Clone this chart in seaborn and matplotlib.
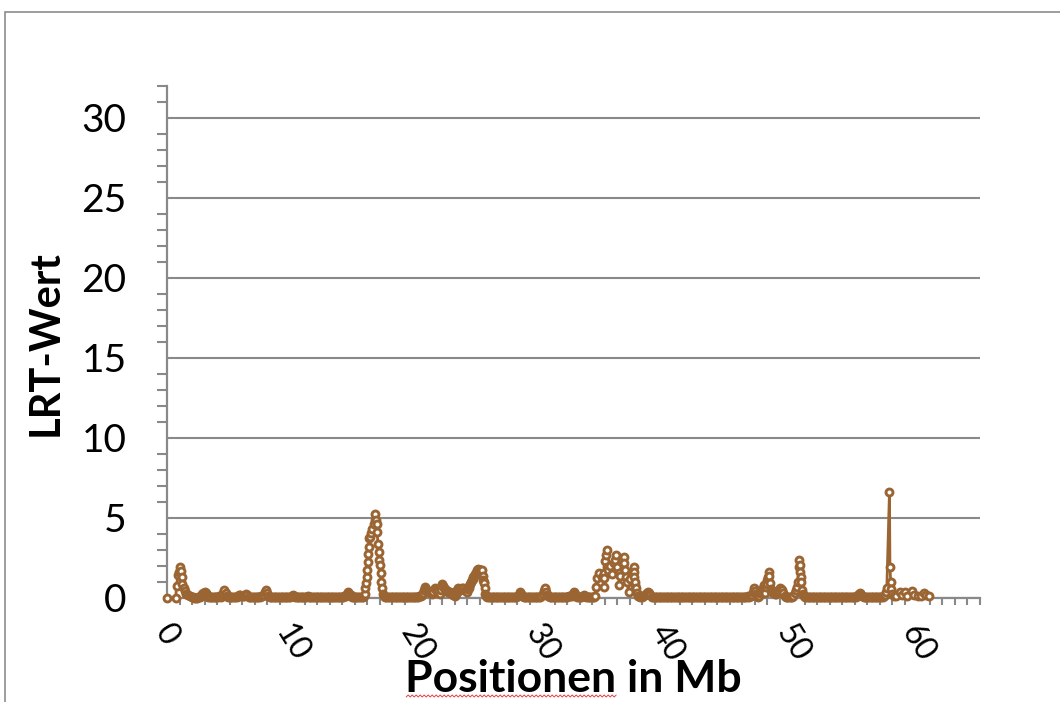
import matplotlib
matplotlib.use("Agg")
import matplotlib.pyplot as plt
from matplotlib.ticker import MultipleLocator
from matplotlib.patches import Rectangle
from matplotlib.lines import Line2D
from matplotlib.transforms import IdentityTransform
import pandas as pd
import seaborn as sns

# ---- LRT scan along the chromosome (position in Mb, LRT value) ----
pos_a = [
    0.00, 0.70, 0.76, 0.88, 0.95, 1.04, 1.10, 1.16, 1.22, 1.32, 1.42, 1.55, 1.70, 1.86,
    1.96, 2.06, 2.17, 2.28, 2.39, 2.50, 2.61, 2.72, 2.82, 2.91,
    3.00, 3.08, 3.18, 3.29, 3.40, 3.51, 3.62, 3.73, 3.84, 3.95,
    4.06, 4.17, 4.28, 4.39, 4.48, 4.58, 4.68, 4.79, 4.90, 5.01,
    5.12, 5.23, 5.34, 5.45, 5.56, 5.67, 5.76, 5.84, 5.93, 6.04,
    6.15, 6.25, 6.33, 6.42, 6.53, 6.64, 6.75, 6.86, 6.97, 7.08,
    7.19, 7.30, 7.41, 7.52, 7.63, 7.74, 7.83, 7.90, 7.98, 8.09,
    8.20, 8.31, 8.42, 8.53, 8.64, 8.75, 8.86, 8.97, 9.08, 9.19,
    9.30, 9.41, 9.52, 9.63, 9.74, 9.85, 9.96, 10.04, 10.14, 10.25,
    10.36, 10.47, 10.58, 10.69, 10.80, 10.91, 11.02, 11.13, 11.24, 11.33,
    11.44, 11.55, 11.66, 11.77, 11.88, 11.99, 12.10, 12.21, 12.32, 12.43,
    12.54, 12.65, 12.76, 12.87, 12.98, 13.09, 13.20, 13.31, 13.42, 13.53,
    13.64, 13.75, 13.86, 13.97, 14.08, 14.19, 14.30, 14.40, 14.50, 14.58,
    14.68, 14.79, 14.90, 15.01, 15.12, 15.23, 15.34, 15.45, 15.56, 15.67,
    15.76, 15.82, 15.86, 15.92, 15.97, 16.02, 16.06, 16.10, 16.14, 16.19,
    16.26, 16.34, 16.42, 16.52, 16.60, 16.65, 16.70, 16.76, 16.81, 16.86,
    16.91, 16.97, 17.03, 17.08, 17.14, 17.20, 17.27, 17.36, 17.45,
]
lrt_a = [
    0.00, 0.00, 0.77, 1.44, 1.62, 1.96, 1.70, 1.33, 0.88, 0.62, 0.44, 0.28, 0.18, 0.10,
    0.06, 0.04, 0.02, 0.00, 0.03, 0.05, 0.08, 0.14, 0.24, 0.34,
    0.40, 0.30, 0.16, 0.08, 0.05, 0.04, 0.06, 0.08, 0.05, 0.04,
    0.07, 0.10, 0.08, 0.16, 0.32, 0.50, 0.30, 0.12, 0.06, 0.05,
    0.04, 0.07, 0.05, 0.04, 0.06, 0.10, 0.18, 0.20, 0.14, 0.10,
    0.12, 0.18, 0.22, 0.16, 0.08, 0.05, 0.04, 0.06, 0.05, 0.07,
    0.05, 0.06, 0.08, 0.10, 0.12, 0.20, 0.40, 0.50, 0.30, 0.14,
    0.08, 0.06, 0.05, 0.04, 0.06, 0.05, 0.07, 0.05, 0.04, 0.06,
    0.05, 0.04, 0.06, 0.08, 0.05, 0.07, 0.12, 0.20, 0.14, 0.08,
    0.05, 0.04, 0.06, 0.05, 0.04, 0.06, 0.07, 0.08, 0.10, 0.09,
    0.06, 0.05, 0.04, 0.06, 0.05, 0.04, 0.06, 0.05, 0.04, 0.05,
    0.06, 0.04, 0.05, 0.06, 0.05, 0.04, 0.06, 0.05, 0.04, 0.06,
    0.05, 0.04, 0.06, 0.05, 0.08, 0.10, 0.14, 0.22, 0.35, 0.28,
    0.16, 0.08, 0.05, 0.04, 0.06, 0.05, 0.04, 0.06, 0.05, 0.08,
    0.12, 0.23, 0.60, 0.92, 1.33, 1.75, 2.23, 2.73, 3.20, 3.73,
    3.80, 4.05, 4.30, 4.60, 4.87, 5.25, 4.90, 4.60, 4.15, 3.35,
    2.90, 2.40, 2.06, 1.54, 1.02, 0.60, 0.25, 0.10, 0.04,
]

pos_b = [
    17.54, 17.65, 17.76, 17.87, 17.98, 18.09, 18.20, 18.31, 18.42, 18.53,
    18.64, 18.75, 18.86, 18.97, 19.08, 19.19, 19.30, 19.41, 19.52, 19.63,
    19.74, 19.85, 19.96, 20.07, 20.18, 20.28, 20.38, 20.48, 20.56, 20.64,
    20.72, 20.82, 20.92, 21.00, 21.09, 21.18, 21.28, 21.40, 21.50, 21.60,
    21.70, 21.82, 21.92, 22.00, 22.08, 22.15, 22.24, 22.32, 22.40, 22.48,
    22.56, 22.64, 22.72, 22.80, 22.90, 23.00, 23.08, 23.15, 23.22, 23.30,
    23.38, 23.45, 23.52, 23.60, 23.70, 23.80, 23.90, 24.00, 24.06, 24.12,
    24.18, 24.24, 24.30, 24.36, 24.43, 24.50, 24.56, 24.62, 24.68, 24.75,
    24.80, 24.84, 24.90, 24.96, 25.01, 25.06, 25.13, 25.20, 25.24, 25.28,
    25.32, 25.36, 25.40, 25.44,
]
lrt_b = [
    0.04, 0.06, 0.05, 0.04, 0.06, 0.05, 0.04, 0.06, 0.05, 0.07,
    0.05, 0.04, 0.06, 0.08, 0.05, 0.04, 0.06, 0.05, 0.04, 0.06,
    0.05, 0.04, 0.06, 0.08, 0.10, 0.12, 0.20, 0.30, 0.50, 0.70,
    0.55, 0.45, 0.38, 0.35, 0.30, 0.28, 0.40, 0.60, 0.52, 0.45,
    0.35, 0.25, 0.50, 0.85, 0.72, 0.62, 0.55, 0.50, 0.45, 0.40,
    0.38, 0.35, 0.30, 0.22, 0.18, 0.15, 0.25, 0.35, 0.48, 0.60,
    0.55, 0.50, 0.58, 0.65, 0.60, 0.52, 0.46, 0.40, 0.55, 0.65,
    0.78, 0.90, 1.00, 1.10, 1.20, 1.30, 1.40, 1.48, 1.56, 1.66,
    1.74, 1.80, 1.78, 1.75, 1.73, 1.72, 1.74, 1.75, 1.40, 1.15,
    1.00, 0.92, 0.60, 0.23,
]

pos_c = [
    25.52, 25.62, 25.73, 25.84, 25.95, 26.06, 26.17, 26.28, 26.39, 26.50,
    26.61, 26.72, 26.83, 26.94, 27.05, 27.16, 27.27, 27.38, 27.49, 27.60,
    27.71, 27.82, 27.93, 28.04, 28.14, 28.22, 28.30, 28.40, 28.51, 28.62,
    28.73, 28.84, 28.95, 29.06, 29.17, 29.28, 29.39, 29.50, 29.61, 29.72,
    29.83, 29.94, 30.04, 30.12, 30.19, 30.24, 30.30, 30.38, 30.48, 30.59,
    30.70, 30.81, 30.92, 31.03, 31.14, 31.25, 31.36, 31.47, 31.58, 31.69,
    31.80, 31.91, 32.02, 32.13, 32.24, 32.35, 32.46, 32.55, 32.62, 32.70,
    32.80, 32.91, 33.02, 33.13, 33.24, 33.33, 33.42, 33.51, 33.62, 33.73,
    33.84, 33.95, 34.06, 34.16,
]
lrt_c = [
    0.10, 0.06, 0.05, 0.04, 0.06, 0.05, 0.04, 0.06, 0.05, 0.04,
    0.06, 0.05, 0.04, 0.06, 0.05, 0.04, 0.06, 0.05, 0.04, 0.06,
    0.05, 0.04, 0.06, 0.10, 0.20, 0.35, 0.22, 0.10, 0.06, 0.05,
    0.04, 0.06, 0.05, 0.04, 0.06, 0.05, 0.04, 0.06, 0.05, 0.04,
    0.06, 0.10, 0.22, 0.45, 0.58, 0.65, 0.40, 0.20, 0.10, 0.06,
    0.05, 0.04, 0.06, 0.05, 0.04, 0.06, 0.05, 0.04, 0.06, 0.05,
    0.04, 0.06, 0.08, 0.12, 0.10, 0.14, 0.22, 0.35, 0.25, 0.15,
    0.08, 0.05, 0.04, 0.06, 0.10, 0.20, 0.14, 0.08, 0.05, 0.04,
    0.06, 0.05, 0.04, 0.06,
]

pos_d = [
    34.24, 34.30, 34.40, 34.55, 34.75, 34.90, 34.93, 34.97, 35.05, 35.12,
    35.16, 35.20, 35.25, 35.40, 35.55, 35.70, 35.80, 35.90, 36.00, 36.10,
    36.16, 36.25, 36.40, 36.50, 36.55, 36.62, 36.70, 36.78, 36.90, 37.00,
    37.15, 37.30, 37.33, 37.36, 37.40, 37.45, 37.50, 37.55, 37.65,
]
lrt_d = [
    0.10, 0.70, 1.23, 1.54, 1.30, 1.54, 0.70, 1.23, 2.30, 2.70,
    3.00, 1.96, 1.75, 2.00, 1.50, 2.17, 2.40, 2.70, 1.96, 1.54,
    0.80, 1.40, 2.30, 2.58, 2.17, 1.75, 1.33, 1.00, 0.40, 1.20,
    1.60, 1.96, 1.65, 1.33, 0.80, 1.00, 0.60, 0.30, 0.15,
]

pos_e = [
    37.75, 37.85, 37.96, 38.07, 38.18, 38.28, 38.38, 38.46, 38.55, 38.65,
    38.76, 38.87, 38.98, 39.09, 39.20, 39.31, 39.42, 39.53, 39.64, 39.75,
    39.86, 39.97, 40.08, 40.19, 40.30, 40.41, 40.52, 40.63, 40.74, 40.85,
    40.96, 41.07, 41.18, 41.29, 41.40, 41.51, 41.62, 41.73, 41.84, 41.95,
    42.06, 42.17, 42.28, 42.39, 42.50, 42.61, 42.72, 42.83, 42.94, 43.05,
    43.16, 43.27, 43.38, 43.49, 43.60, 43.71, 43.82, 43.93, 44.04, 44.15,
    44.26, 44.37, 44.48, 44.59, 44.70, 44.81, 44.92, 45.03, 45.14, 45.25,
    45.36, 45.47, 45.58, 45.69, 45.80, 45.91, 46.02, 46.13, 46.24, 46.35,
    46.46, 46.57, 46.68, 46.78, 46.88, 46.96, 47.02, 47.10, 47.18, 47.26,
    47.34, 47.42, 47.50, 47.58, 47.64, 47.70, 47.76, 47.82, 47.88, 47.94,
    48.00, 48.06, 48.10, 48.15, 48.20, 48.26, 48.33, 48.40, 48.48, 48.56,
    48.64, 48.72, 48.80, 48.88, 48.96, 49.04, 49.12, 49.20, 49.28, 49.38,
    49.48, 49.58, 49.68, 49.78, 49.88, 49.98, 50.08, 50.18, 50.28, 50.36,
    50.44, 50.50, 50.55, 50.60, 50.64, 50.68, 50.72, 50.76, 50.82, 50.90,
]
lrt_e = [
    0.10, 0.08, 0.06, 0.10, 0.16, 0.24, 0.34, 0.40, 0.30, 0.16,
    0.08, 0.05, 0.04, 0.06, 0.05, 0.04, 0.06, 0.05, 0.04, 0.06,
    0.05, 0.04, 0.06, 0.05, 0.04, 0.06, 0.05, 0.04, 0.06, 0.05,
    0.04, 0.06, 0.05, 0.04, 0.06, 0.05, 0.04, 0.06, 0.05, 0.04,
    0.06, 0.05, 0.04, 0.06, 0.05, 0.04, 0.06, 0.05, 0.04, 0.06,
    0.05, 0.04, 0.06, 0.05, 0.04, 0.06, 0.05, 0.04, 0.06, 0.05,
    0.04, 0.06, 0.05, 0.04, 0.06, 0.05, 0.04, 0.06, 0.05, 0.04,
    0.06, 0.05, 0.04, 0.06, 0.05, 0.04, 0.06, 0.05, 0.08, 0.06,
    0.10, 0.08, 0.12, 0.20, 0.40, 0.60, 0.45, 0.25, 0.12, 0.08,
    0.15, 0.30, 0.40, 0.50, 0.65, 0.80, 0.55, 0.30, 0.70, 1.10,
    0.90, 1.30, 1.65, 1.35, 0.95, 0.55, 0.45, 0.40, 0.35, 0.30,
    0.28, 0.25, 0.30, 0.35, 0.45, 0.60, 0.55, 0.50, 0.30, 0.15,
    0.08, 0.05, 0.04, 0.06, 0.05, 0.08, 0.15, 0.30, 0.50, 0.70,
    1.00, 1.96, 2.37, 2.06, 1.65, 1.30, 1.00, 0.50, 0.25, 0.10,
]

pos_f = [
    51.00, 51.10, 51.21, 51.32, 51.43, 51.54, 51.65, 51.76, 51.87, 51.98,
    52.09, 52.20, 52.31, 52.42, 52.53, 52.64, 52.75, 52.86, 52.97, 53.08,
    53.19, 53.30, 53.41, 53.52, 53.63, 53.74, 53.85, 53.96, 54.07, 54.18,
    54.29, 54.40, 54.51, 54.62, 54.73, 54.84, 54.95, 55.06, 55.16, 55.26,
    55.35, 55.44, 55.52, 55.60, 55.70, 55.81, 55.92, 56.03, 56.14, 56.25,
    56.36, 56.47, 56.58, 56.69, 56.80, 56.91, 57.02, 57.12, 57.22, 57.32,
    57.40, 57.47, 57.55, 57.76, 57.80, 57.86, 57.92, 58.00, 58.10, 58.30,
    58.60, 58.80, 59.00, 59.20, 59.56, 59.75, 60.05, 60.30, 60.50, 60.70,
    60.90,
]
lrt_f = [
    0.06, 0.05, 0.04, 0.06, 0.05, 0.04, 0.06, 0.05, 0.04, 0.06,
    0.05, 0.04, 0.06, 0.05, 0.04, 0.06, 0.05, 0.04, 0.06, 0.05,
    0.04, 0.06, 0.05, 0.04, 0.06, 0.05, 0.04, 0.06, 0.05, 0.04,
    0.06, 0.05, 0.04, 0.06, 0.05, 0.04, 0.06, 0.08, 0.12, 0.20,
    0.26, 0.30, 0.20, 0.10, 0.06, 0.05, 0.04, 0.06, 0.05, 0.04,
    0.06, 0.05, 0.04, 0.06, 0.05, 0.04, 0.06, 0.08, 0.06, 0.10,
    0.20, 0.35, 0.60, 6.60, 1.96, 1.00, 0.55, 0.25, 0.15, 0.15,
    0.40, 0.20, 0.40, 0.15, 0.45, 0.20, 0.10, 0.15, 0.30, 0.20,
    0.10,
]

x_title = "Positionen in Mb"
y_title = "LRT-Wert"

positions = pos_a + pos_b + pos_c + pos_d + pos_e + pos_f
values = lrt_a + lrt_b + lrt_c + lrt_d + lrt_e + lrt_f
assert len(positions) == len(values)
scan = pd.DataFrame({"pos": positions, "lrt": values})

BROWN = "#9a6532"
GRAY = "#898989"

sns.set_style("white")
plt.rcParams["font.family"] = ["Lato", "DejaVu Sans"]

W, H = 1060, 702
fig = plt.figure(figsize=(W / 100, H / 100), dpi=100)
ax = fig.add_axes([167 / W, 1 - 598 / H, 813 / W, 512 / H])

sns.lineplot(
    data=scan, x="pos", y="lrt", ax=ax,
    estimator=None, sort=False, color=BROWN, linewidth=2.0,
    marker="o", markersize=5.0, markerfacecolor="white",
    markeredgecolor=BROWN, markeredgewidth=2.1,
    clip_on=False, zorder=4,
)

ax.set_xlim(0, 65)
ax.set_ylim(0, 32)
ax.xaxis.set_major_locator(MultipleLocator(10))
ax.xaxis.set_minor_locator(MultipleLocator(1))
ax.yaxis.set_major_locator(MultipleLocator(5))
ax.yaxis.set_minor_locator(MultipleLocator(1))

ax.yaxis.grid(True, which="major", color=GRAY, linewidth=1.5)
ax.xaxis.grid(False)
ax.set_axisbelow(True)

for side in ("top", "right"):
    ax.spines[side].set_visible(False)
for side in ("left", "bottom"):
    ax.spines[side].set_color(GRAY)
    ax.spines[side].set_linewidth(1.6)

ax.tick_params(axis="y", which="major", direction="out", length=10,
               width=1.5, color=GRAY, labelsize=28, pad=19, labelcolor="black")
ax.tick_params(axis="y", which="minor", direction="out", length=7,
               width=1.5, color=GRAY, left=True)
ax.tick_params(axis="x", which="major", direction="out", length=7.5,
               width=1.5, color=GRAY, labelsize=23, pad=8, labelcolor="black")
ax.tick_params(axis="x", which="minor", direction="out", length=5,
               width=1.5, color=GRAY, bottom=True)

for lbl in ax.get_xticklabels():
    lbl.set_rotation(-58)
    lbl.set_rotation_mode("default")
    lbl.set_ha("center")
    lbl.set_va("top")

ax.set_xlabel(x_title, fontsize=32, fontweight="bold", color="black")
ax.xaxis.label.set_va("center")
ax.xaxis.set_label_coords(0.5, (598 - 679) / 512)

ax.set_ylabel(y_title, fontsize=30, fontweight="bold", color="black")
ax.yaxis.label.set_va("center")
ax.yaxis.set_label_coords((46 - 167) / 813, (598 - 343) / 512)

# chart-area frame
fig.add_artist(Rectangle((5 / W, -0.1), 1.2, (H - 12) / H + 0.1,
                         transform=fig.transFigure, fill=False,
                         edgecolor="#8c8c8c", linewidth=1.2))

# red squiggle under the first word of the x title
fig.canvas.draw()
renderer = fig.canvas.get_renderer()
label_box = ax.xaxis.label.get_window_extent(renderer)
probe = fig.text(0, 0, x_title.split()[0], fontsize=32, fontweight="bold")
word_w = probe.get_window_extent(renderer).width
probe.remove()
xs, ys = [], []
x0 = label_box.x0 + 1
y0 = label_box.y0 + 3
k = 0
while x0 + 2 * k <= label_box.x0 + word_w:
    xs.append(x0 + 2 * k)
    ys.append(y0 + (1.0 if k % 2 else -1.0))
    k += 1
fig.add_artist(Line2D(xs, ys, transform=IdentityTransform(),
                      color="#e04040", linewidth=0.7))

fig.savefig("out.png", dpi=100)
